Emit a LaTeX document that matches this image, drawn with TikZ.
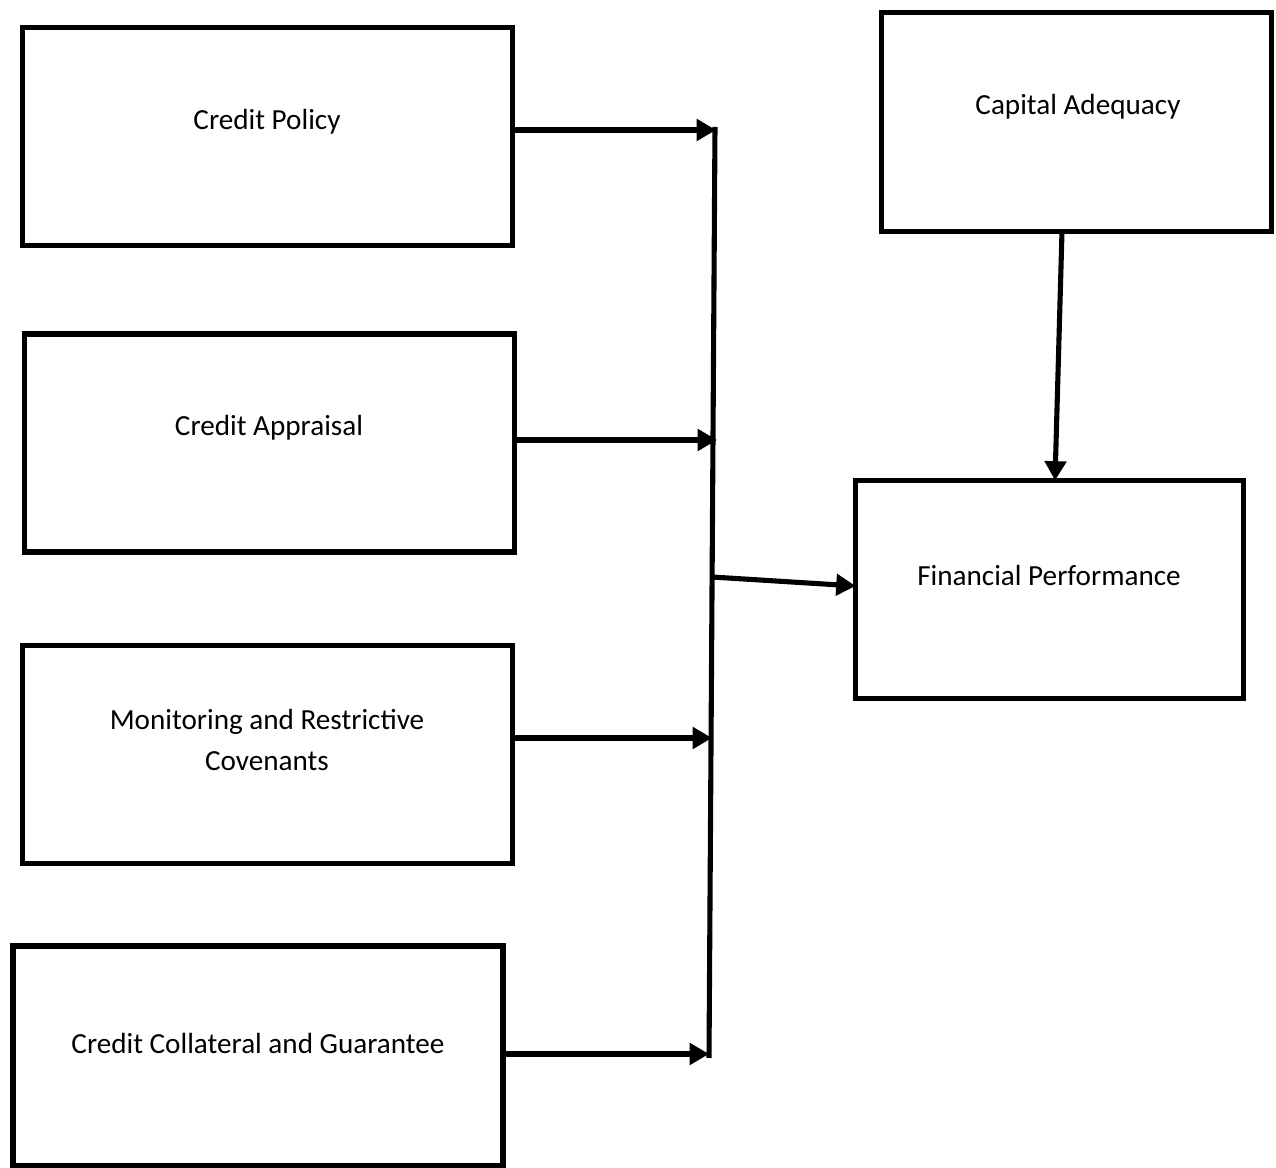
\documentclass[tikz,border=0pt]{standalone}
\usepackage{fontspec}
\setmainfont{Carlito}
\usetikzlibrary{arrows.meta, positioning}

\begin{document}
\begin{tikzpicture}[x=0.02cm, y=-0.02cm, line width=2.9pt]

	\tikzset{
		block/.style={
				rectangle, draw=black, line width=3.3pt, inner sep=0pt, outer sep=0pt, minimum width=9.8cm, minimum height=4.36cm
			},
		smallblock/.style={
				block, minimum width=7.8cm
			},
		lbl/.style={
				align=center, font=\fontsize{16.6}{23.8}\selectfont
			},
		link/.style={
				-{Triangle[length=11pt, width=12pt]}
			},
	}
	\useasboundingbox (0,0) rectangle (1276,1168);

	% independent variables
	\node[block](policy) at (267.5,136.5){};
	\node[block](appraisal) at (269.5,443){};
	\node[block](monitor) at (267.5,754.5){};
	\node[block, minimum height=4.4cm](collateral) at (258,1056){};

	% moderator and outcome
	\node[smallblock, minimum height=4.38cm](capital) at (1076.5,122){};
	\node[smallblock, minimum width=7.76cm](perf) at (1049.5,589.5){};

	\node[lbl](t1) at (267,122){Credit Policy};
	\node[lbl](t2) at (269,428){Credit Appraisal};
	\node[lbl](t3) at (267,740){Monitoring and Restrictive\\Covenants};
	\node[lbl](t4) at (258,1043){Credit Collateral and Guarantee};
	\node[lbl](t5) at (1078,107){Capital Adequacy};
	\node[lbl](t6) at (1049,575){Financial Performance};

	% vertical collector
	\coordinate (bustop) at (715,127);
	\coordinate (busbot) at (709,1058);
	\coordinate (j1) at (716,130);
	\coordinate (j2) at (717,440);
	\coordinate (j3) at (712,738);
	\coordinate (j4) at (709,1054);
	\coordinate (jout) at (712,577);

	\draw (bustop)--(busbot);

	\draw[link] (policy.east |- j1)--(j1);
	\draw[link] (appraisal.east |- j2)--(j2);
	\draw[link] (monitor.east |- j3)--(j3);
	\draw[link] (collateral.east |- j4)--(j4);

	\draw[link] (jout)--([yshift=0.07cm]perf.west);
	\draw[link] ([xshift=-0.29cm]capital.south)--([xshift=0.11cm]perf.north);

\end{tikzpicture}
\end{document}
